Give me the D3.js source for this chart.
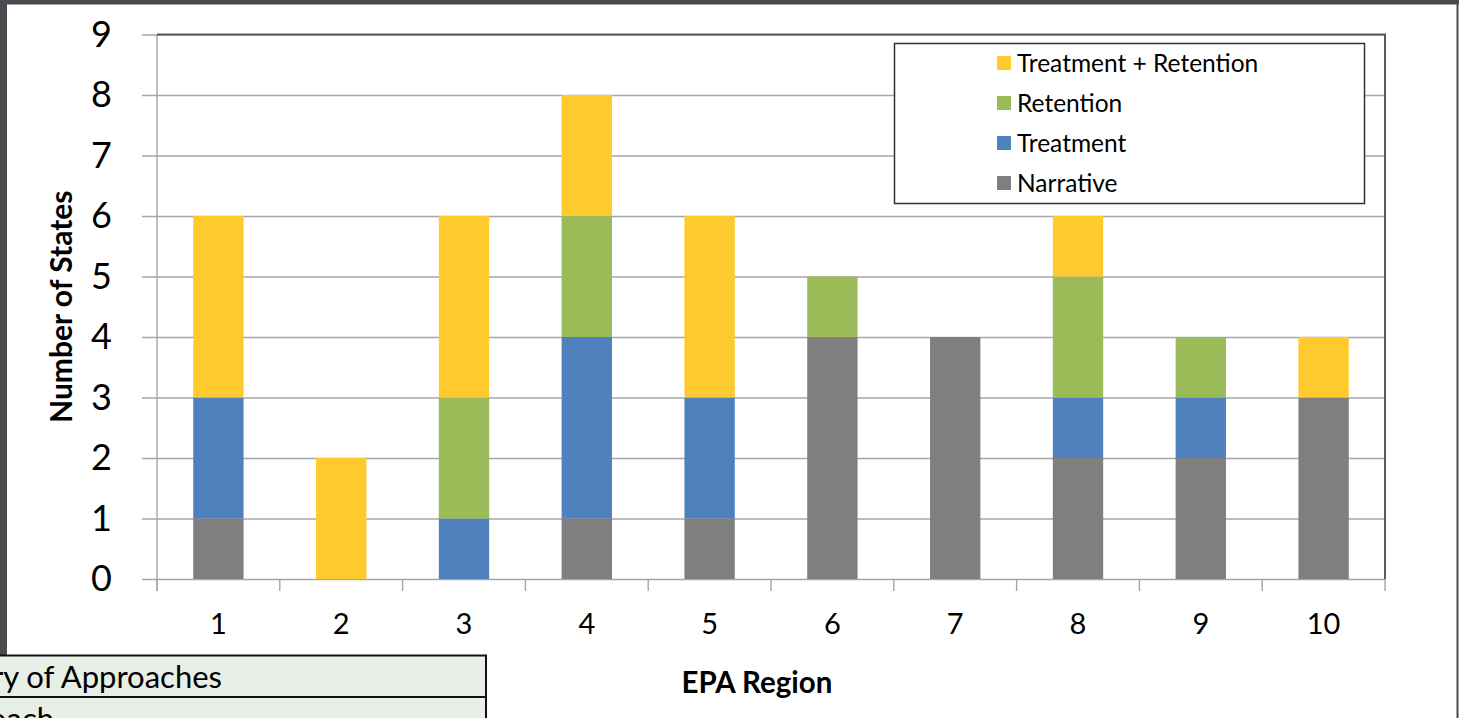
<!DOCTYPE html>
<html>
<head>
<meta charset="utf-8">
<script src="https://cdn.jsdelivr.net/npm/d3@7"></script>
<style>
  html, body { margin: 0; padding: 0; background: #fff; }
  svg { display: block; }
  text { font-family: Lato, "Open Sans", sans-serif; fill: #000; }
</style>
</head>
<body>
<svg id="chart" width="1459" height="718"></svg>
<script>
// EPA regions on the x axis
const regions = ["1", "2", "3", "4", "5", "6", "7", "8", "9", "10"];

// Number of states per approach, by region
const narrative          = [1, 0, 0, 1, 1, 4, 4, 2, 2, 3];
const treatment          = [2, 0, 1, 3, 2, 0, 0, 1, 1, 0];
const retention          = [0, 0, 2, 2, 0, 1, 0, 2, 1, 0];
const treatmentRetention = [3, 2, 3, 2, 3, 0, 0, 1, 0, 1];

const seriesNames  = ["Narrative", "Treatment", "Retention", "Treatment + Retention"];
const seriesColors = ["#7f7f7f", "#4f81bd", "#9bbb59", "#ffca2e"];
const yTicks = [0, 1, 2, 3, 4, 5, 6, 7, 8, 9];

const seriesValues = [narrative, treatment, retention, treatmentRetention];
const rows = regions.map((r, i) => {
  const o = { region: r };
  seriesNames.forEach((s, k) => { o[s] = seriesValues[k][i]; });
  return o;
});
const stacked = d3.stack().keys(seriesNames)(rows);

const svg = d3.select("#chart");
const W = 1459, H = 718;
const plot = { left: 157, right: 1385, top: 34.5, bottom: 579 };

const x = d3.scaleBand().domain(regions).range([plot.left, plot.right])
  .paddingInner(0.59).paddingOuter(0.295);
const y = d3.scaleLinear().domain([0, 9]).range([plot.bottom, plot.top]);
const color = d3.scaleOrdinal().domain(seriesNames).range(seriesColors);

// Slide frame
svg.append("rect").attr("x", 0).attr("y", 0).attr("width", W).attr("height", H).attr("fill", "#fff");
svg.append("rect").attr("x", 0).attr("y", 0).attr("width", W).attr("height", 4.5).attr("fill", "#4a4a4f");
svg.append("rect").attr("x", 0).attr("y", 0).attr("width", 7).attr("height", 655).attr("fill", "#4a4a4f");
svg.append("rect").attr("x", 1456.5).attr("y", 0).attr("width", 2).attr("height", H).attr("fill", "#4a4a4f");

// Horizontal gridlines with y labels
const yAxis = svg.append("g")
  .attr("transform", `translate(142,0)`)
  .call(d3.axisLeft(y).tickValues(yTicks).tickSize(-(plot.right - 142)).tickPadding(30));
yAxis.select(".domain").remove();
yAxis.selectAll(".tick line").attr("stroke", "#a6a6a6").attr("stroke-width", 1.4);
yAxis.selectAll(".tick text").attr("font-size", 36).attr("font-family", "Lato, sans-serif").attr("fill", "#000");

// Left axis line
svg.append("line").attr("x1", plot.left).attr("x2", plot.left)
  .attr("y1", plot.top).attr("y2", plot.bottom + 12)
  .attr("stroke", "#a6a6a6").attr("stroke-width", 1.4);

// Category boundary ticks below the baseline
const edges = regions.map(r => x(r) - x.step() * x.paddingInner() / 2).concat([plot.right]);
edges[0] = plot.left;
svg.append("g").selectAll("line").data(edges).join("line")
  .attr("x1", d => d).attr("x2", d => d)
  .attr("y1", plot.bottom).attr("y2", plot.bottom + 12)
  .attr("stroke", "#a6a6a6").attr("stroke-width", 1.4);

// Stacked bars
svg.append("g").selectAll("g").data(stacked).join("g")
  .attr("fill", d => color(d.key))
  .selectAll("rect").data(d => d).join("rect")
  .attr("x", d => x(d.data.region))
  .attr("width", x.bandwidth())
  .attr("y", d => y(d[1]))
  .attr("height", d => y(d[0]) - y(d[1]));

// Plot frame (top and right)
svg.append("path")
  .attr("d", `M${plot.left},${plot.top}H${plot.right}V${plot.bottom}`)
  .attr("fill", "none").attr("stroke", "#5a5a5a").attr("stroke-width", 2);

// X labels
const xAxis = svg.append("g")
  .attr("transform", `translate(0,${plot.bottom})`)
  .call(d3.axisBottom(x).tickSize(0).tickPadding(34));
xAxis.select(".domain").remove();
xAxis.selectAll(".tick text").attr("font-size", 29).attr("font-family", "Lato, sans-serif").attr("fill", "#000");

// Axis titles
svg.append("text")
  .attr("transform", `translate(72,${(plot.top + plot.bottom) / 2}) rotate(-90)`)
  .attr("text-anchor", "middle").attr("font-size", 30).attr("font-weight", 700)
  .text("Number of States");
svg.append("text")
  .attr("x", 757).attr("y", 693)
  .attr("text-anchor", "middle").attr("font-size", 29.5).attr("font-weight", 700)
  .text("EPA Region");

// Legend (top series first)
const legend = svg.append("g");
legend.append("rect").attr("x", 894.5).attr("y", 43.5).attr("width", 470).attr("height", 160)
  .attr("fill", "#fff").attr("stroke", "#333").attr("stroke-width", 1.5);
const legendOrder = seriesNames.slice().reverse();
const li = legend.selectAll("g.item").data(legendOrder).join("g")
  .attr("class", "item")
  .attr("transform", (d, i) => `translate(997,${63 + i * 40})`);
li.append("rect").attr("x", 0).attr("y", -7).attr("width", 14).attr("height", 14)
  .attr("fill", d => color(d));
li.append("text").attr("x", 20).attr("y", 8.5).attr("font-size", 24.5).text(d => d);

// Table fragment at lower left
const table = svg.append("g");
table.append("rect").attr("x", -4).attr("y", 655.5).attr("width", 490).attr("height", 80)
  .attr("fill", "#e8efe6").attr("stroke", "#111").attr("stroke-width", 2);
table.append("line").attr("x1", -4).attr("x2", 486).attr("y1", 697).attr("y2", 697)
  .attr("stroke", "#111").attr("stroke-width", 2);
table.append("text").attr("x", 222).attr("y", 688).attr("text-anchor", "end")
  .attr("font-size", 31).text("Summary of Approaches");
table.append("text").attr("x", 54).attr("y", 730).attr("text-anchor", "end")
  .attr("font-size", 31).text("Approach");
</script>
</body>
</html>
